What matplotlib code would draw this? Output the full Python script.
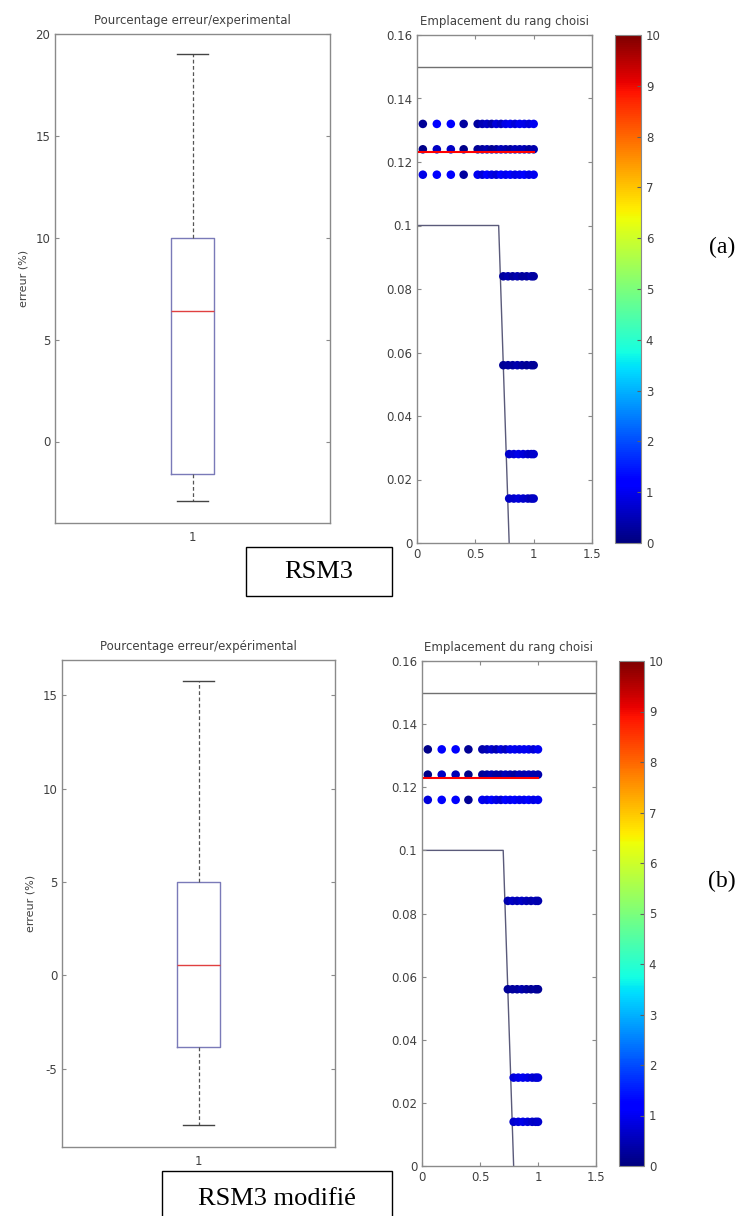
import matplotlib
matplotlib.use("Agg")
import matplotlib.pyplot as plt
from matplotlib.patches import Rectangle
from matplotlib.ticker import FormatStrFormatter

W, H = 744, 1216

# boxplot statistics (erreur en %)
box_a = {"med": 6.4, "q1": -1.6, "q3": 10.0, "whislo": -2.9, "whishi": 19.0}
box_b = {"med": 0.55, "q1": -3.85, "q3": 5.0, "whislo": -8.0, "whishi": 15.75}
box_ylim_a = (-4.0, 20.0)
box_ylim_b = (-9.2, 16.9)
box_ticks_a = [0, 5, 10, 15, 20]
box_ticks_b = [-5, 0, 5, 10, 15]
box_titles = ["Pourcentage erreur/experimental", "Pourcentage erreur/expérimental"]

# scatter "Emplacement du rang choisi"
upper_levels = [0.132, 0.124, 0.116]
upper_x = [0.05, 0.17, 0.29, 0.40, 0.52, 0.56, 0.60, 0.64, 0.68, 0.72,
           0.76, 0.80, 0.84, 0.88, 0.92, 0.96, 1.00]
lower_levels = [0.084, 0.056, 0.028, 0.014]
lower_x = [[0.74, 0.78, 0.82, 0.86, 0.90, 0.94, 0.98, 1.0],
           [0.74, 0.78, 0.82, 0.86, 0.90, 0.94, 0.98, 1.0],
           [0.79, 0.83, 0.87, 0.91, 0.95, 0.98, 1.0],
           [0.79, 0.83, 0.87, 0.91, 0.95, 0.98, 1.0]]

upper_c_a = [[0.2, 1.1, 1.2, 0.3, 0.3, 0.5, 0.6, 0.4, 0.8, 0.6, 0.9, 1.0, 0.8, 1.0, 0.9, 0.8, 1.0],
             [0.1, 0.6, 0.6, 0.1, 0.2, 0.3, 0.4, 0.2, 0.3, 0.5, 0.4, 0.3, 0.5, 0.4, 0.5, 0.3, 0.4],
             [0.9, 1.1, 1.1, 0.3, 1.0, 0.8, 1.1, 0.9, 0.8, 1.1, 1.0, 1.1, 0.9, 1.0, 1.1, 0.9, 1.0]]
lower_c_a = [[0.3, 0.4, 0.3, 0.4, 0.3, 0.3, 0.4, 0.3],
             [0.2, 0.3, 0.3, 0.4, 0.3, 0.2, 0.3, 0.2],
             [0.7, 0.8, 0.9, 0.8, 0.7, 0.6, 0.7],
             [0.6, 0.7, 0.8, 0.7, 0.6, 0.5, 0.6]]
upper_c_b = [[0.1, 1.1, 1.2, 0.2, 0.4, 0.5, 0.7, 0.5, 0.8, 0.6, 0.9, 1.0, 0.9, 1.0, 1.0, 0.8, 1.0],
             [0.1, 0.6, 0.5, 0.1, 0.2, 0.3, 0.4, 0.3, 0.3, 0.5, 0.4, 0.3, 0.5, 0.4, 0.5, 0.4, 0.4],
             [0.8, 1.1, 1.1, 0.2, 1.0, 0.9, 1.1, 0.9, 0.8, 1.1, 1.0, 1.1, 1.0, 1.0, 1.1, 0.9, 1.0]]
lower_c_b = [[0.4, 0.6, 0.5, 0.6, 0.5, 0.4, 0.5, 0.4],
             [0.2, 0.3, 0.3, 0.4, 0.3, 0.2, 0.3, 0.2],
             [0.8, 0.9, 1.0, 0.9, 0.8, 0.7, 0.8],
             [0.7, 0.8, 0.9, 0.8, 0.7, 0.6, 0.7]]

limit_top = 0.15
step_x = [0.0, 0.70, 0.79]
step_y = [0.10, 0.10, 0.0]
chosen_rank = 0.123
chosen_x = [0.02, 1.0]

scatter_xticks = [0, 0.5, 1, 1.5]
scatter_yticks = [0, 0.02, 0.04, 0.06, 0.08, 0.10, 0.12, 0.14, 0.16]
cbar_ticks = list(range(11))

plt.rcParams["font.family"] = ["DejaVu Sans"]
plt.rcParams["axes.unicode_minus"] = False
TXT = "#404040"
SPINE = "#8a8a8a"
FS = 8.5

fig = plt.figure(figsize=(W / 100, H / 100), dpi=100)


def px_axes(l, t, r, b):
    return fig.add_axes([l / W, 1 - b / H, (r - l) / W, (b - t) / H])


def style(ax):
    for s in ax.spines.values():
        s.set_color(SPINE)
        s.set_linewidth(1.0)
    ax.tick_params(direction="in", length=3, width=0.8, color=SPINE,
                   labelsize=FS, labelcolor=TXT, top=True, right=True)


def draw_box(ax, stats, ylim, yticks, title):
    ax.bxp([stats], positions=[1], widths=0.156, capwidths=0.113,
           showfliers=False,
           boxprops={"color": "#7a7ab8", "linewidth": 1.0},
           medianprops={"color": "#e04040", "linewidth": 1.0},
           whiskerprops={"color": "#555555", "linewidth": 0.9, "linestyle": (0, (3, 2))},
           capprops={"color": "#444444", "linewidth": 1.0})
    ax.set_xlim(0.5, 1.5)
    ax.set_ylim(*ylim)
    ax.set_yticks(yticks)
    ax.set_xticks([1])
    ax.set_xticklabels(["1"])
    style(ax)
    ax.tick_params(axis="x", top=False, length=0, pad=6)
    ax.set_title(title, fontsize=FS, color=TXT, pad=7)
    ax.set_ylabel("erreur (%)", fontsize=FS - 0.5, color=TXT, labelpad=5)


def draw_scatter(ax, cax, up_c, low_c):
    ax.plot([0, 1.5], [limit_top] * 2, color="#707070", lw=1.0, zorder=1)
    ax.plot(step_x, step_y, color="#5a5a7a", lw=1.0, zorder=1)
    sc = None
    for lvl, cs in zip(upper_levels, up_c):
        sc = ax.scatter(upper_x, [lvl] * len(upper_x), c=cs, cmap="jet",
                        vmin=0, vmax=10, s=38, edgecolors="none", zorder=2)
    for lvl, xs, cs in zip(lower_levels, lower_x, low_c):
        ax.scatter(xs, [lvl] * len(xs), c=cs, cmap="jet",
                   vmin=0, vmax=10, s=38, edgecolors="none", zorder=2)
    ax.plot(chosen_x, [chosen_rank] * 2, color="red", lw=1.5, zorder=3)
    ax.set_xlim(0, 1.5)
    ax.set_ylim(0, 0.16)
    ax.set_xticks(scatter_xticks)
    ax.set_yticks(scatter_yticks)
    ax.xaxis.set_major_formatter(FormatStrFormatter("%g"))
    ax.yaxis.set_major_formatter(FormatStrFormatter("%g"))
    style(ax)
    ax.set_title("Emplacement du rang choisi", fontsize=FS, color=TXT, pad=7)
    cb = fig.colorbar(sc, cax=cax, ticks=cbar_ticks)
    cb.outline.set_edgecolor(SPINE)
    cb.ax.tick_params(direction="in", length=3, color="#606060",
                      labelsize=FS, labelcolor=TXT)


def label_box(l, t, r, b):
    fig.add_artist(Rectangle((l / W, 1 - b / H), (r - l) / W, (b - t) / H,
                             transform=fig.transFigure, fill=False,
                             edgecolor="black", lw=1.0, clip_on=False))


# panel (a)
ax1 = px_axes(55, 34, 330, 523)
draw_box(ax1, box_a, box_ylim_a, box_ticks_a, box_titles[0])
ax2 = px_axes(417, 35, 592, 543)
cax2 = px_axes(615, 35, 641, 543)
draw_scatter(ax2, cax2, upper_c_a, lower_c_a)

# panel (b)
ax3 = px_axes(62, 660, 335, 1147)
draw_box(ax3, box_b, box_ylim_b, box_ticks_b, box_titles[1])
ax4 = px_axes(422, 661, 596, 1166)
cax4 = px_axes(619, 661, 644, 1166)
draw_scatter(ax4, cax4, upper_c_b, lower_c_b)

serif = ["Liberation Serif", "DejaVu Serif"]
fig.text(722 / W, 1 - 247 / H, "(a)", family=serif, fontsize=17,
         ha="center", va="center")
fig.text(722 / W, 1 - 881 / H, "(b)", family=serif, fontsize=17,
         ha="center", va="center")

label_box(246, 547, 392, 596)
fig.text(319 / W, 1 - 572 / H, "RSM3", family=serif, fontsize=19,
         ha="center", va="center")
label_box(162, 1171, 392, 1230)
fig.text(277 / W, 1 - 1199 / H, "RSM3 modifié", family=serif, fontsize=19,
         ha="center", va="center")

fig.savefig("out.png", dpi=100, facecolor="white")
